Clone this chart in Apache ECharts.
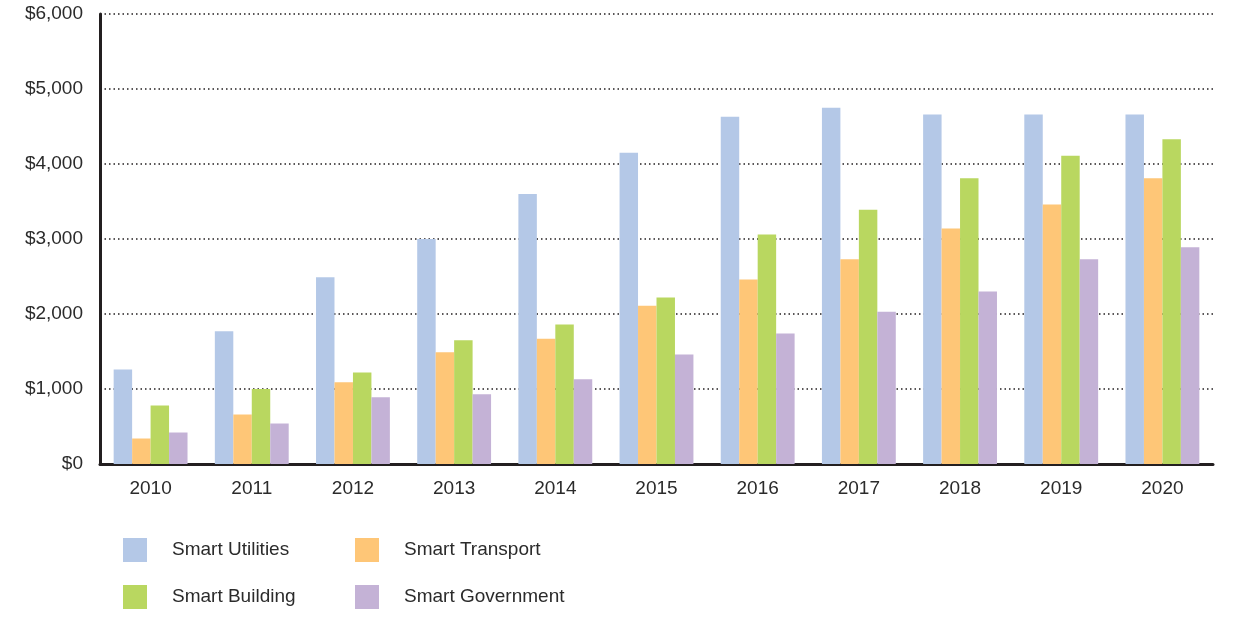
<!DOCTYPE html>
<html>
<head>
<meta charset="utf-8">
<script src="https://cdn.jsdelivr.net/npm/echarts@6/dist/echarts.min.js"></script>
<style>
html,body{margin:0;padding:0;background:#fff;}
#chart{width:1247px;height:623px;}
</style>
</head>
<body>
<div id="chart"></div>
<script>
const years = ['2010','2011','2012','2013','2014','2015','2016','2017','2018','2019','2020'];
const seriesNames = ['Smart Utilities','Smart Transport','Smart Building','Smart Government'];
const smartUtilities  = [1260,1770,2490,3000,3600,4150,4630,4750,4660,4660,4660];
const smartTransport  = [340,660,1090,1490,1670,2110,2460,2730,3140,3460,3810];
const smartBuilding   = [780,1000,1220,1650,1860,2220,3060,3390,3810,4110,4330];
const smartGovernment = [420,540,890,930,1130,1460,1740,2030,2300,2730,2890];
const yTicks = [0,1000,2000,3000,4000,5000,6000];
const colors = ['#b4c8e7','#fec677','#b9d760','#c4b2d6'];

const FONT = 'Liberation Sans';
const TXT = '#2b2b2b';
const values = [smartUtilities, smartTransport, smartBuilding, smartGovernment];

const legendPos = [
  {left:123, top:538}, {left:355, top:538},
  {left:123, top:585}, {left:355, top:585}
];

const chart = echarts.init(document.getElementById('chart'));
chart.setOption({
  animation:false,
  backgroundColor:'#fff',
  grid:{left:100, right:34, top:14, bottom:159},
  legend: seriesNames.map((n,i)=>({
    data:[n], left:legendPos[i].left, top:legendPos[i].top, padding:0,
    itemWidth:24, itemHeight:24, icon:'rect', itemGap:0,
    textStyle:{fontFamily:FONT, fontSize:19, color:TXT, padding:[6,0,0,20]}
  })),
  xAxis:{
    type:'category', data:years,
    axisLine:{lineStyle:{color:'#231f20', width:3}},
    axisTick:{show:false},
    axisLabel:{fontFamily:FONT, fontSize:19, color:TXT, margin:15}
  },
  yAxis:{
    type:'value', min:yTicks[0], max:yTicks[yTicks.length-1], interval:1000,
    axisLine:{show:true, lineStyle:{color:'#231f20', width:3}},
    axisTick:{show:false},
    axisLabel:{fontFamily:FONT, fontSize:19, color:TXT, margin:17, padding:[7,0,0,0],
      formatter:v=>'$'+v.toLocaleString('en-US')},
    splitLine:{show:true, lineStyle:{color:'#231f20', width:1.5, type:[1.5,3]}}
  },
  series: seriesNames.map((n,i)=>({
    name:n, type:'bar', data:values[i],
    itemStyle:{color:colors[i]},
    barGap:'0%', barCategoryGap:'27%'
  }))
});
</script>
</body>
</html>
